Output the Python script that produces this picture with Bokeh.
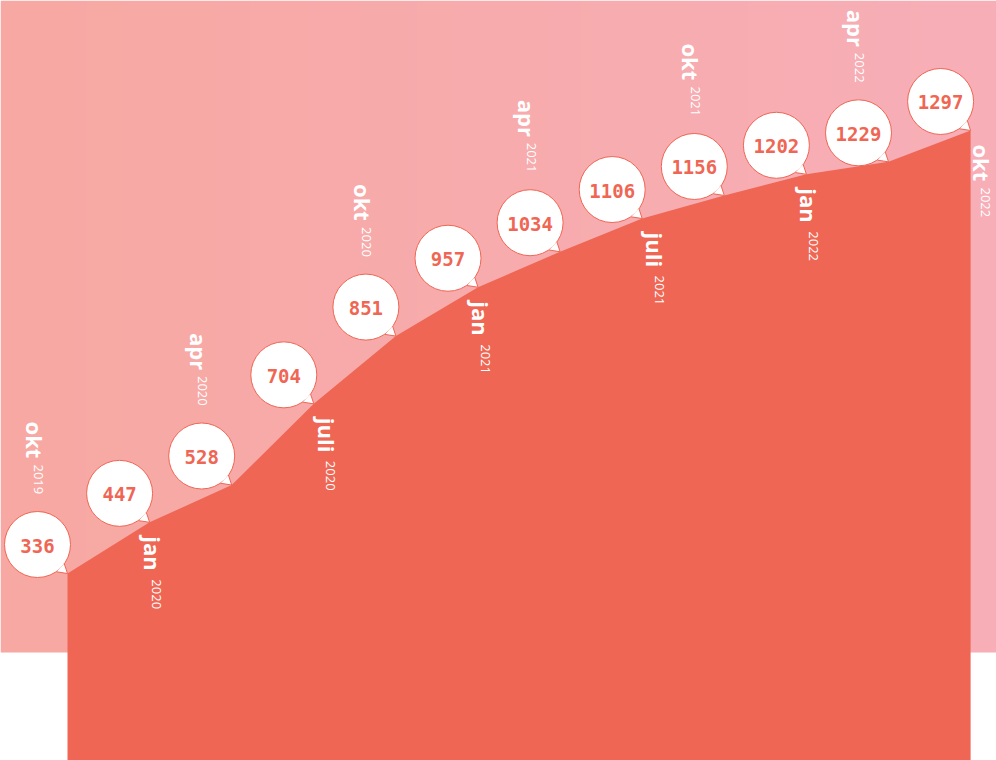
import numpy as np
from bokeh.plotting import figure
from bokeh.models import Range1d
from bokeh.embed import file_html
from bokeh.resources import INLINE
from bokeh.core.properties import value

# ---- data ----
months = ["okt", "jan", "apr", "juli", "okt", "jan", "apr", "juli", "okt", "jan", "apr", "okt"]
years = ["2019", "2020", "2020", "2020", "2020", "2021", "2021", "2021", "2021", "2022", "2022", "2022"]
values = [336, 447, 528, 704, 851, 957, 1034, 1106, 1156, 1202, 1229, 1297]

# ---- layout constants (pixel geometry) ----
W, H = 996, 760
X0, DX = 67.0, 82.1      # px of first point, px between points
Y0, K = 727.9, 0.461     # px of value 0, px per unit
BG_BOTTOM_PX = 652
ABOVE_DX, ABOVE_DY = -33, -152
BELOW_DY = 14
BELOW_DX = {"jan": 3, "juli": 13, "okt": 11}

AREA = "#ef6654"
BG_LEFT = (247, 168, 162)
BG_RIGHT = (247, 174, 183)

x_start = -X0 / DX
x_end = (W - X0) / DX
y_top = Y0 / K
y_bot = (Y0 - H) / K
bg_bottom = (Y0 - BG_BOTTOM_PX) / K


def dx(px):
    return px / DX


def dy(px):  # px measured downward
    return -px / K


idx = np.arange(len(values), dtype=float)
vals = np.array(values, dtype=float)

p = figure(width=W, height=H, x_range=Range1d(x_start, x_end), y_range=Range1d(y_bot, y_top),
           output_backend="svg", toolbar_location=None, min_border=0,
           x_axis_location=None, y_axis_location=None)
p.grid.visible = False
p.outline_line_color = None
p.background_fill_color = "white"
p.border_fill_color = "white"

# gradient background
N = 256
t = np.linspace(0, 1, N)
img = np.empty((1, N), dtype=np.uint32)
view = img.view(dtype=np.uint8).reshape((1, N, 4))
for c in range(3):
    view[0, :, c] = np.round(BG_LEFT[c] + t * (BG_RIGHT[c] - BG_LEFT[c])).astype(np.uint8)
view[0, :, 3] = 255
p.image_rgba(image=[img], x=x_start, y=bg_bottom, dw=x_end - x_start, dh=y_top - bg_bottom)

# area
p.varea(x=idx, y1=np.full(len(idx), y_bot - 20), y2=vals, fill_color=AREA)

# bubbles
cx = idx + dx(-30)
cy = vals + dy(-29)
p.circle(x=cx, y=cy, radius=33 / DX, fill_color="white", line_color=AREA, line_width=1)
tx = [[i + dx(-3.3), i, i + dx(-11)] for i in idx]
ty = [[v + dy(-10), v, v + dy(-1.7)] for v in vals]
p.patches(xs=tx, ys=ty, fill_color="white", line_color=None)
p.multi_line(xs=tx, ys=ty, line_color=AREA, line_width=1)
p.text(x=cx, y=cy + dy(1), text=[str(v) for v in values], text_font=value("DejaVu Sans Mono"),
       text_font_style="bold", text_font_size="19px", text_color=AREA,
       text_align="center", text_baseline="middle")

# rotated date labels
mx, my = [], []
for i, v, m in zip(idx, vals, months):
    if int(i) % 2 == 0:
        mx.append(i + dx(ABOVE_DX)); my.append(v + dy(ABOVE_DY))
    else:
        mx.append(i + dx(BELOW_DX[m])); my.append(v + dy(BELOW_DY))
mx = np.array(mx); my = np.array(my)
p.text(x=mx, y=my, text=months, angle=-np.pi / 2, text_font=value("Open Sans"),
       text_font_style="bold", text_font_size="22px", text_color="white",
       text_align="left", text_baseline="alphabetic")
p.text(x=mx + dx(4), y=my + dy(43), text=years, angle=-np.pi / 2, text_font=value("Open Sans"),
       text_font_size="13px", text_color="white", text_align="left", text_baseline="alphabetic")

open("out.html", "w").write(file_html(p, INLINE))
